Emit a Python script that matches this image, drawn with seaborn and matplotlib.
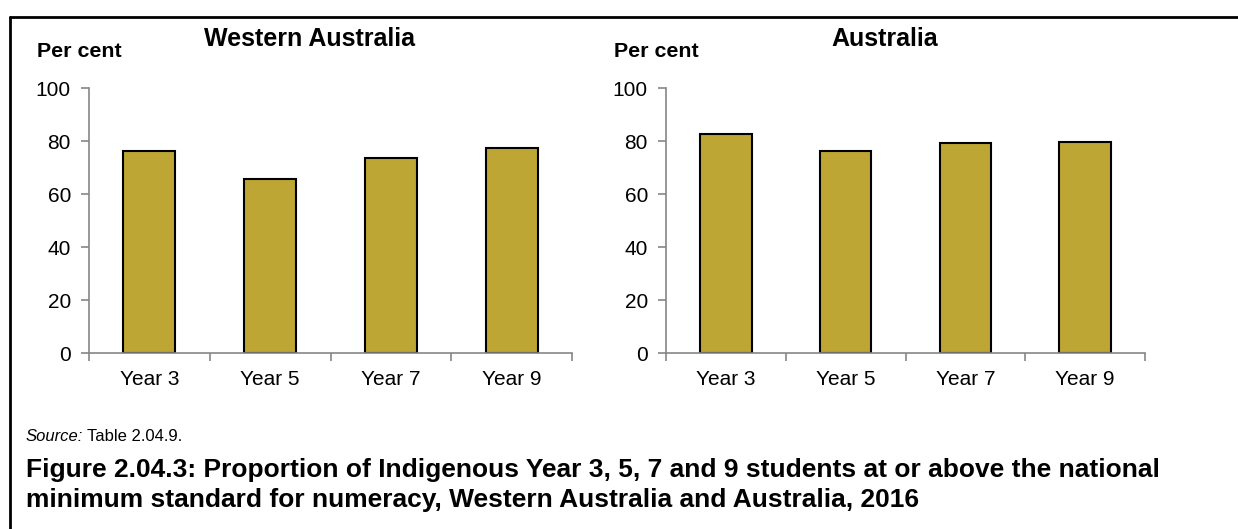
import seaborn as sb
import matplotlib.pyplot as plt
from matplotlib.lines import Line2D
import pandas as pd

#### data
years = ["Year 3", "Year 5", "Year 7", "Year 9"]
wa_values = [76.3, 65.8, 73.7, 77.6]
aus_values = [82.7, 76.2, 79.5, 79.7]
panel_titles = ["Western Australia", "Australia"]

bar_color = "#BDA633"
axis_grey = "#868686"

sb.set_style("white")
plt.rcParams["font.family"] = ["Liberation Sans", "DejaVu Sans"]
plt.rcParams["text.color"] = "black"
plt.rcParams["xtick.color"] = "black"
plt.rcParams["ytick.color"] = "black"

W, H = 1238, 529
fig = plt.figure(figsize=(W / 100, H / 100), dpi=100)
ax_wa = fig.add_axes([89 / W, 1 - 353.3 / H, 483 / W, 265 / H])
ax_au = fig.add_axes([666 / W, 1 - 353.3 / H, 479 / W, 265 / H])


def draw_panel(ax, values):
    df = pd.DataFrame({"year": years, "value": values})
    sb.barplot(data=df, x="year", y="value", ax=ax, color=bar_color,
               saturation=1, width=0.43, edgecolor="black", linewidth=1.5)
    ax.set_ylim(0, 100)
    ax.set_xlim(-0.5, 3.5)
    ax.set_yticks([0, 20, 40, 60, 80, 100])
    ax.set_xlabel("")
    ax.set_ylabel("")
    for s in ["top", "right"]:
        ax.spines[s].set_visible(False)
    for s in ["left", "bottom"]:
        ax.spines[s].set_color(axis_grey)
        ax.spines[s].set_linewidth(1.2)
    # tick marks sit on the category boundaries, labels under the bars
    ax.set_xticks([-0.5, 0.5, 1.5, 2.5, 3.5], minor=True)
    ax.tick_params(axis="x", which="major", bottom=True, length=0,
                   labelsize=15, pad=12)
    ax.tick_params(axis="x", which="minor", bottom=True, length=6, width=1.2,
                   color=axis_grey, direction="out")
    ax.tick_params(axis="y", left=True, length=6, width=1.2, color=axis_grey,
                   labelcolor="black", direction="out", labelsize=15, pad=7)


draw_panel(ax_wa, wa_values)
draw_panel(ax_au, aus_values)

# labels and titles
fig.text(37 / W, 1 - 57 / H, "Per cent", fontsize=15.4, fontweight="bold")
fig.text(614 / W, 1 - 57 / H, "Per cent", fontsize=15.4, fontweight="bold")
fig.text(310 / W, 1 - 46 / H, panel_titles[0], fontsize=18,
         fontweight="bold", ha="center")
fig.text(885 / W, 1 - 46 / H, panel_titles[1], fontsize=18,
         fontweight="bold", ha="center")

src = fig.text(26 / W, 1 - 441 / H, "Source:", fontsize=12, style="italic")
fig.canvas.draw()
src_end = src.get_window_extent().x1
fig.text((src_end + 4) / W, 1 - 441 / H, "Table 2.04.9.", fontsize=12)
fig.text(26 / W, 1 - 477 / H,
         "Figure 2.04.3: Proportion of Indigenous Year 3, 5, 7 and 9 students at or above the national",
         fontsize=19, fontweight="bold")
fig.text(26 / W, 1 - 507 / H,
         "minimum standard for numeracy, Western Australia and Australia, 2016",
         fontsize=19, fontweight="bold")

# frame round the chart (left and top edges)
fig.add_artist(Line2D([10 / W, 10 / W], [0, 1 - 17 / H],
                      transform=fig.transFigure, color="black", linewidth=2))
fig.add_artist(Line2D([10 / W, 1], [1 - 17 / H, 1 - 17 / H],
                      transform=fig.transFigure, color="black", linewidth=2))

plt.savefig("out.png", dpi=100)
